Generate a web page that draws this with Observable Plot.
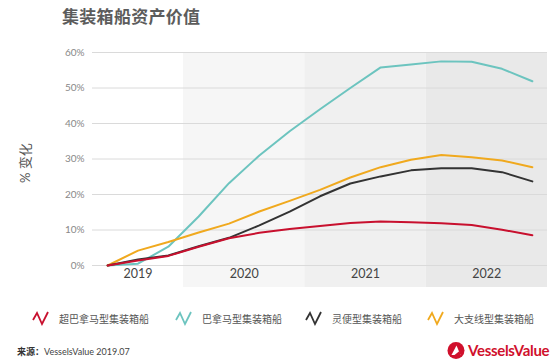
<!DOCTYPE html>
<html>
<head>
<meta charset="utf-8">
<script src="https://cdn.jsdelivr.net/npm/d3@7"></script>
<script src="https://cdn.jsdelivr.net/npm/@observablehq/plot@0.6"></script>
<style>
  html, body { margin: 0; padding: 0; background: #fff; }
  body { width: 557px; height: 362px; position: relative; overflow: hidden;
         font-family: "Lato", "Noto Sans CJK SC", sans-serif; }
  #title { position: absolute; left: 62px; top: 3px; font-size: 17px; font-weight: 700;
           color: #5c5c5c; font-family: "Noto Sans CJK SC", sans-serif; letter-spacing: 0.3px; }
  #chart { position: absolute; left: 0; top: 30px; }
  #ylabel { position: absolute; left: 25px; top: 163px; width: 80px; height: 18px; line-height: 18px;
            margin-left: -40px; margin-top: -9px; text-align: center; transform: rotate(-90deg);
            font-family: "Lato", "Noto Sans CJK SC", sans-serif; font-size: 13px; color: #555; }
  #legend { position: absolute; left: 0; top: 309px; width: 557px; height: 18px; }
  .item { position: absolute; top: 0; display: flex; align-items: center; height: 18px; }
  .item span { font-family: "Noto Sans CJK SC", sans-serif; font-size: 10px; color: #555; margin-left: 10px; }
  #source { position: absolute; left: 17px; top: 345px; font-size: 9px; color: #444;
            font-family: "Noto Sans CJK SC", sans-serif; }
  #source b { font-weight: 700; color: #333; }
  #logo { position: absolute; left: 446px; top: 341px; }
</style>
</head>
<body>
<div id="title">集装箱船资产价值</div>
<div id="chart"></div>
<div id="ylabel">% 变化</div>
<div id="legend"></div>
<div id="source"><b>来源：</b><span style="font-family:Lato, sans-serif">VesselsValue 2019.07</span></div>
<svg id="logo" width="106" height="20" viewBox="0 0 106 20">
  <circle cx="10" cy="9.5" r="8.5" fill="#d0102c"/>
  <path d="M5.5 14 L10.5 4.5 L14.5 14 Z" fill="#fff"/>
  <path d="M8.5 14 L13.5 10 L14.5 14 Z" fill="#d0102c"/>
  <text x="22" y="15" font-family="Lato, sans-serif" font-size="15" font-weight="700" fill="#d0102c" letter-spacing="-0.3">VesselsValue</text>
</svg>
<script>
// Quarter positions (fractional years, mid-quarter)
const quarters = [2019.375, 2019.625, 2019.875, 2020.125, 2020.375, 2020.625, 2020.875,
                  2021.125, 2021.375, 2021.625, 2021.875, 2022.125, 2022.375, 2022.625, 2022.875];

// Series values (% change)
const postPanamax = [0, 1.4, 2.7, 5.3, 7.7, 9.2, 10.3, 11.1, 12.0, 12.4, 12.2, 11.9, 11.4, 10.1, 8.5];
const panamax     = [0, 0.5, 5.3, 13.8, 23.2, 31.0, 37.8, 44.0, 50.0, 55.8, 56.6, 57.5, 57.4, 55.4, 51.9];
const handy       = [0, 1.7, 2.8, 5.4, 7.8, 11.3, 15.2, 19.5, 23.1, 25.1, 26.8, 27.4, 27.4, 26.3, 23.7];
const feeder      = [0, 4.2, 6.6, 9.3, 11.8, 15.2, 18.2, 21.3, 24.8, 27.7, 29.8, 31.1, 30.5, 29.6, 27.7];

const seriesNames = ["超巴拿马型集装箱船", "巴拿马型集装箱船", "灵便型集装箱船", "大支线型集装箱船"];

// Tick labels
const yTicks = [0, 10, 20, 30, 40, 50, 60];
const yearLabels = ["2019", "2020", "2021", "2022"];
const yearLabelPos = [2019.625, 2020.5, 2021.5, 2022.5];
const bandStarts = [2019.25, 2020, 2021, 2022];
const bandEnds = [2020, 2021, 2022, 2023];

// Styles
const colors = ["#c8102e", "#6cc4bf", "#333333", "#f0a91e"];
const bandFills = ["#ffffff", "#f6f6f6", "#f0f0f0", "#e9e9e9"];

const seriesValues = [postPanamax, panamax, handy, feeder];
const tables = seriesValues.map(vals => vals.map((v, i) => ({t: quarters[i], v})));
const years = yearLabels.map((label, i) => ({label, pos: yearLabelPos[i]}));

const drawOrder = [1, 3, 2, 0];

const chart = Plot.plot({
  width: 557,
  height: 262,
  marginLeft: 92,
  marginRight: 10,
  marginTop: 22,
  marginBottom: 27,
  x: {domain: [2019.25, 2023], axis: null},
  y: {domain: [0, 60], axis: null},
  style: {fontFamily: "Lato, 'Noto Sans CJK SC', sans-serif", background: "transparent", overflow: "visible"},
  marks: [
    ...bandStarts.map((s, i) => Plot.rect([0], {x1: () => s, x2: () => bandEnds[i], y1: () => -6.2, y2: () => 60, fill: bandFills[i]})),
    Plot.ruleY(yTicks, {stroke: "#dadada", strokeWidth: 1}),
    Plot.text(yTicks, {y: d => d, text: d => d + "%", frameAnchor: "left", textAnchor: "end", dx: -8, fontSize: 10, fill: "#888", letterSpacing: 0.4}),
    Plot.text(years, {x: "pos", text: "label", frameAnchor: "bottom", dy: 12, fontSize: 12.5, fill: "#444", letterSpacing: 0.6}),
    ...drawOrder.map(k => Plot.line(tables[k], {x: "t", y: "v", stroke: colors[k], strokeWidth: 2, strokeLinejoin: "round", strokeLinecap: "round"}))
  ]
});
document.getElementById("chart").appendChild(chart);

// Legend
const legendPos = [32, 175, 305, 427];
const legend = document.getElementById("legend");
seriesNames.forEach((name, i) => {
  const item = document.createElement("div");
  item.className = "item";
  item.style.left = legendPos[i] + "px";
  item.innerHTML = `<svg width="17" height="16" viewBox="0 0 17 16"><polyline points="1,10 5,3 10,14 16,2" fill="none" stroke="${colors[i]}" stroke-width="1.8" stroke-linejoin="miter"/></svg><span>${name}</span>`;
  legend.appendChild(item);
});
</script>
</body>
</html>
